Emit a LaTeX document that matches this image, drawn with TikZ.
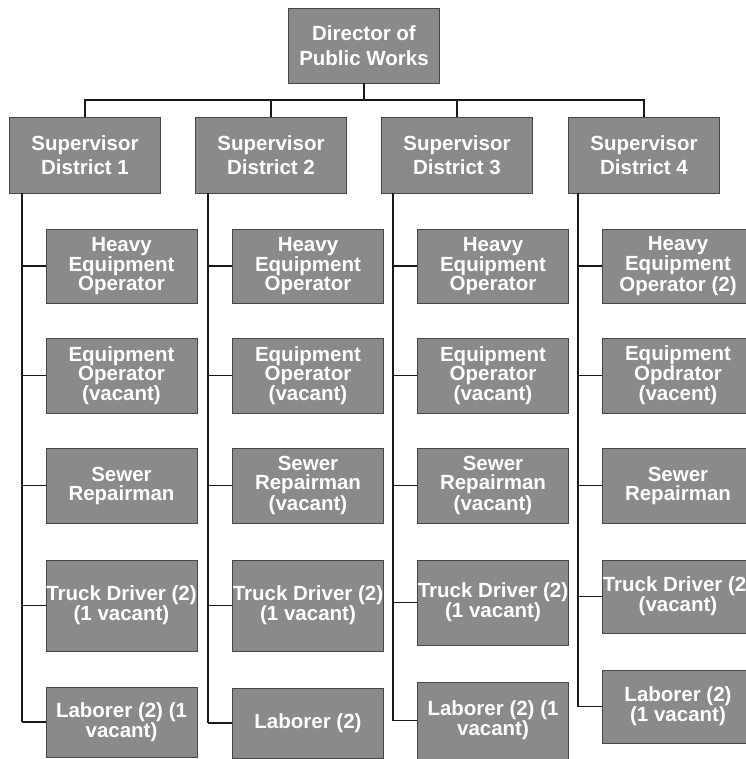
\documentclass[tikz,border=0pt]{standalone}
\usepackage{fontspec}
\setmainfont{Liberation Sans}
\usepackage{tikz}
\usetikzlibrary{positioning, calc}
\definecolor{boxGray}{RGB}{138,138,138}
\definecolor{boxEdge}{RGB}{70,70,70}
\definecolor{lineDark}{RGB}{25,25,25}
\tikzset{
  orgbox/.style={draw=boxEdge, line width=0.8pt, fill=boxGray, text=white,
    align=center, inner sep=0pt, minimum width=151pt,
    font=\bfseries\fontsize{20.5}{19}\selectfont},
  headbox/.style={orgbox, font=\bfseries\fontsize{20.5}{24.5}\selectfont},
  orgline/.style={draw=lineDark, line width=1.5pt}
}
\begin{document}
\begin{tikzpicture}[x=1pt, y=-1pt]
				\useasboundingbox (0,0) rectangle (745,759);
				% Director
				\node[headbox, minimum height=75pt] (dir) at (364,45.5) {Director of\\Public Works};
				\coordinate (bus) at (364,100);
				% Supervisors
				\node[headbox, minimum height=76pt] (sup1) at (85,155) {Supervisor\\District 1};
				\node[headbox, minimum height=76pt] (sup2) at (271,155) {Supervisor\\District 2};
				\node[headbox, minimum height=76pt] (sup3) at (457,155) {Supervisor\\District 3};
				\node[headbox, minimum height=76pt] (sup4) at (644,155) {Supervisor\\District 4};
				\draw[orgline] (dir.south) -- (bus);
				\draw[orgline] (sup1.north) -- (sup1.north |- bus) -- (sup4.north |- bus) -- (sup4.north);
				\draw[orgline] (sup2.north) -- (sup2.north |- bus);
				\draw[orgline] (sup3.north) -- (sup3.north |- bus);
				% District 1 staff
				\node[orgbox, minimum height=74pt] (h1) at (121.5,266) {Heavy\\Equipment\\Operator};
				\node[orgbox, minimum height=75pt] (e1) at (121.5,375.5) {Equipment\\Operator\\(vacant)};
				\node[orgbox, minimum height=75pt] (s1) at (121.5,485.5) {Sewer\\Repairman};
				\node[orgbox, minimum height=91pt] (t1) at (121.5,605.5) {Truck Driver (2)\\(1 vacant)};
				\node[orgbox, minimum height=70pt] (l1) at (121.5,722) {Laborer (2) (1\\vacant)};
				% District 2 staff
				\node[orgbox, minimum height=74pt] (h2) at (308,266) {Heavy\\Equipment\\Operator};
				\node[orgbox, minimum height=75pt] (e2) at (308,375.5) {Equipment\\Operator\\(vacant)};
				\node[orgbox, minimum height=75pt] (s2) at (308,485.5) {Sewer\\Repairman\\(vacant)};
				\node[orgbox, minimum height=91pt] (t2) at (308,605.5) {Truck Driver (2)\\(1 vacant)};
				\node[orgbox, minimum height=70pt] (l2) at (308,723) {Laborer (2)};
				% District 3 staff
				\node[orgbox, minimum height=74pt] (h3) at (493,266) {Heavy\\Equipment\\Operator};
				\node[orgbox, minimum height=75pt] (e3) at (493,375.5) {Equipment\\Operator\\(vacant)};
				\node[orgbox, minimum height=75pt] (s3) at (493,485.5) {Sewer\\Repairman\\(vacant)};
				\node[orgbox, minimum height=85pt] (t3) at (493,602.5) {Truck Driver (2)\\(1 vacant)};
				\node[orgbox, minimum height=77pt] (l3) at (493,720.5) {Laborer (2) (1\\vacant)};
				% District 4 staff (runs off the right edge)
				\node[orgbox, minimum height=74pt] (h4) at (678,266) {Heavy\\Equipment\\Operator (2)};
				\node[orgbox, minimum height=75pt] (e4) at (678,375.5) {Equipment\\Opdrator\\(vacent)};
				\node[orgbox, minimum height=75pt] (s4) at (678,485.5) {Sewer\\Repairman};
				\node[orgbox, minimum height=73pt] (t4) at (678,596.5) {Truck Driver (2)\\(vacant)};
				\node[orgbox, minimum height=73pt] (l4) at (678,706.5) {Laborer (2)\\(1 vacant)};
				% Trunks
				\coordinate (k1) at (22,193);
				\coordinate (k2) at (208,193);
				\coordinate (k3) at (393,193);
				\coordinate (k4) at (578,193);
				\foreach \c in {1,2,3,4} {
					\draw[orgline] (k\c) -- (k\c |- l\c.west);
					\foreach \r in {h,e,s,t,l}
						\draw[orgline] (k\c |- \r\c.west) -- (\r\c.west);
				}
			\end{tikzpicture}
\end{document}
